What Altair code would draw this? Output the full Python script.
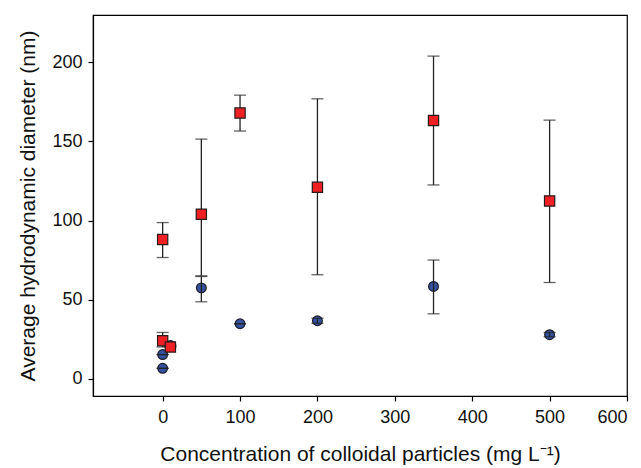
import altair as alt
import pandas as pd

# Red squares (series 1) with error bars
red_x = [0, 0, 10, 50, 100, 200, 350, 500]
red_y = [88, 24, 20, 104, 168, 121, 163.3, 112.4]
red_lo = [76.6, 20, 20, 65, 156.6, 65.7, 122.5, 60.8]
red_hi = [98.7, 29.2, 20, 151.5, 179.3, 177, 204, 163.5]

# Blue circles (series 2) with error bars
blue_x = [0, 0, 10, 50, 100, 200, 350, 500]
blue_y = [6.5, 15.2, 21, 57.4, 34.7, 36.6, 58.3, 27.8]
blue_lo = [6.5, 15.2, 21, 48.6, 34.7, 35, 41, 26.5]
blue_hi = [6.5, 15.2, 21, 64.6, 34.7, 38.2, 75, 29.2]

x_ticks = [0, 100, 200, 300, 400, 500, 600]
y_ticks = [0, 50, 100, 150, 200]

red = pd.DataFrame({"x": red_x, "y": red_y, "lo": red_lo, "hi": red_hi})
blue = pd.DataFrame({"x": blue_x, "y": blue_y, "lo": blue_lo, "hi": blue_hi})

FONT = "Liberation Sans"

xs = alt.Scale(domain=[-90, 600], nice=False, zero=False)
ys = alt.Scale(domain=[-11, 230], nice=False, zero=False)

xenc = alt.X("x:Q", scale=xs, axis=alt.Axis(
    values=x_ticks, title="Concentration of colloidal particles (mg L\u207b\u00b9)",
    grid=False, tickSize=5, labelPadding=7, titlePadding=17))
yenc = alt.Y("y:Q", scale=ys, axis=alt.Axis(
    values=y_ticks, title="Average hydrodynamic diameter (nm)",
    grid=False, tickSize=5, labelPadding=6, titlePadding=13))


def bars(df):
    base = alt.Chart(df)
    rule = base.mark_rule(color="#222222", strokeWidth=1.3).encode(
        x=alt.X("x:Q", scale=xs), y=alt.Y("lo:Q", scale=ys), y2="hi:Q")
    cap_lo = base.mark_tick(color="#222222", orient="horizontal", size=12, thickness=1.3).encode(
        x=alt.X("x:Q", scale=xs), y=alt.Y("lo:Q", scale=ys))
    cap_hi = base.mark_tick(color="#222222", orient="horizontal", size=12, thickness=1.3).encode(
        x=alt.X("x:Q", scale=xs), y=alt.Y("hi:Q", scale=ys))
    return rule + cap_lo + cap_hi


blue_pts = alt.Chart(blue).mark_point(
    shape="circle", filled=True, size=95, fill="#3452A0", stroke="#1a1a2a",
    strokeWidth=1.2, opacity=1).encode(x=xenc, y=yenc)
red_pts = alt.Chart(red).mark_point(
    shape="square", filled=True, size=105, fill="#EE2024", stroke="#2a1a1a",
    strokeWidth=1.2, opacity=1).encode(x=xenc, y=yenc)

chart = alt.layer(blue_pts, bars(blue), bars(red), red_pts).properties(
    width=534, height=381,
    background="white",
    autosize=alt.AutoSizeParams(type="none"),
    padding={"left": 85, "top": 7, "right": 6, "bottom": 73},
).configure_view(stroke="black", strokeWidth=1.2).configure_axis(
    domainColor="black", tickColor="black", labelColor="#111111", titleColor="#111111",
    labelFont=FONT, titleFont=FONT, labelFontSize=18, titleFontSize=21,
    titleFontWeight="normal", domainWidth=1.2, tickWidth=1.2,
)

chart.save("out.html", embed_options={"renderer": "svg", "actions": False})
